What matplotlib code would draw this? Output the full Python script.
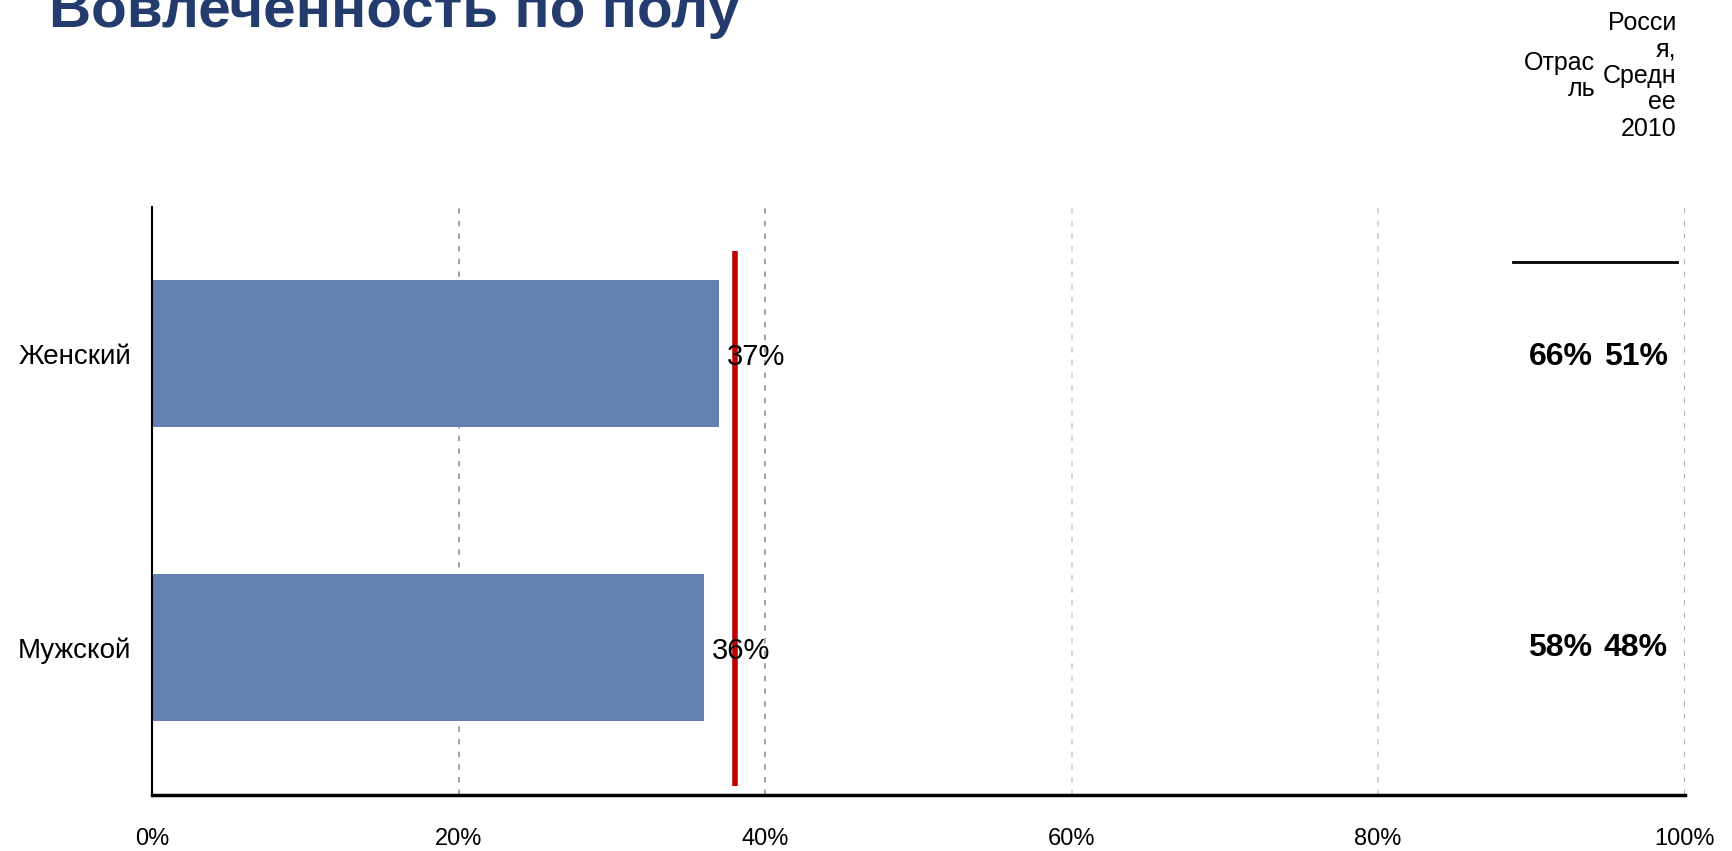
import matplotlib.pyplot as plt

# engagement by gender, share of engaged employees
categories = ['Мужской', 'Женский']
engagement = [36, 37]
industry = ['58%', '66%']
russia_avg = ['48%', '51%']
company_avg = 38

col_headers = ['Отрас\nль', 'Росси\nя,\nСредн\nее\n2010']
xticks = [0, 20, 40, 60, 80, 100]
grid_colors = ['#9a9a9a', '#9a9a9a', '#9a9a9a', '#d2d2d2', '#d2d2d2', '#a8a8a8']


def main():
    plt.rcParams['font.family'] = ['Liberation Sans', 'DejaVu Sans']
    fig = plt.figure(figsize=(17.32, 8.51), dpi=100)
    ax = fig.add_axes([0.088, 0.0658, 0.8846, 0.6915])

    y = list(range(len(categories)))
    ax.barh(y, engagement, height=0.5, color='#6281b0', zorder=2)
    ax.set_xlim(0, 100)
    ax.set_ylim(-0.5, 1.5)

    for yi, v in zip(y, engagement):
        ax.text(v + 0.5, yi - 0.012, f'{v}%', va='center', ha='left',
                fontsize=21, zorder=4)

    # company average marker
    ax.plot([company_avg, company_avg], [-0.47, 1.35], color='#c00000',
            lw=4, solid_capstyle='butt', zorder=3)

    ax.set_xticks(xticks)
    ax.set_xticklabels([f'{t}%' for t in xticks], fontsize=17)
    ax.set_yticks(y)
    ax.set_yticklabels(categories, fontsize=20)
    ax.tick_params(axis='x', length=0, pad=24)
    ax.tick_params(axis='y', length=0, pad=15)

    ax.grid(axis='x', linestyle=(0, (3, 4)), lw=1.3, zorder=0)
    for line, c in zip(ax.get_xgridlines(), grid_colors):
        line.set_color(c)
    ax.spines['top'].set_visible(False)
    ax.spines['right'].set_visible(False)
    ax.spines['left'].set_linewidth(1.5)
    ax.spines['bottom'].set_linewidth(2.5)

    # benchmark columns on the right
    for yi, a, b in zip(y, industry, russia_avg):
        yy = yi + (0.0 if yi == 0 else -0.012)
        ax.text(94.0, yy, a, ha='right', va='center', fontsize=23, fontweight='bold')
        ax.text(98.9, yy, b, ha='right', va='center', fontsize=23, fontweight='bold')
    ax.plot([88.8, 99.5], [1.31, 1.31], color='black', lw=2, clip_on=False)

    fig.text(1595 / 1732, 1 - 76 / 851, col_headers[0], ha='right', va='center',
             fontsize=18, linespacing=1.13, multialignment='right')
    fig.text(1676 / 1732, 1 - 76 / 851, col_headers[1], ha='right', va='center',
             fontsize=18, linespacing=1.13, multialignment='right')

    fig.text(49 / 1732, 1 - 27 / 851, 'Вовлеченность по полу', ha='left',
             va='baseline', fontsize=42, fontweight='bold', color='#243b6e')

    fig.savefig('out.png', dpi=100)


if __name__ == '__main__':
    main()
